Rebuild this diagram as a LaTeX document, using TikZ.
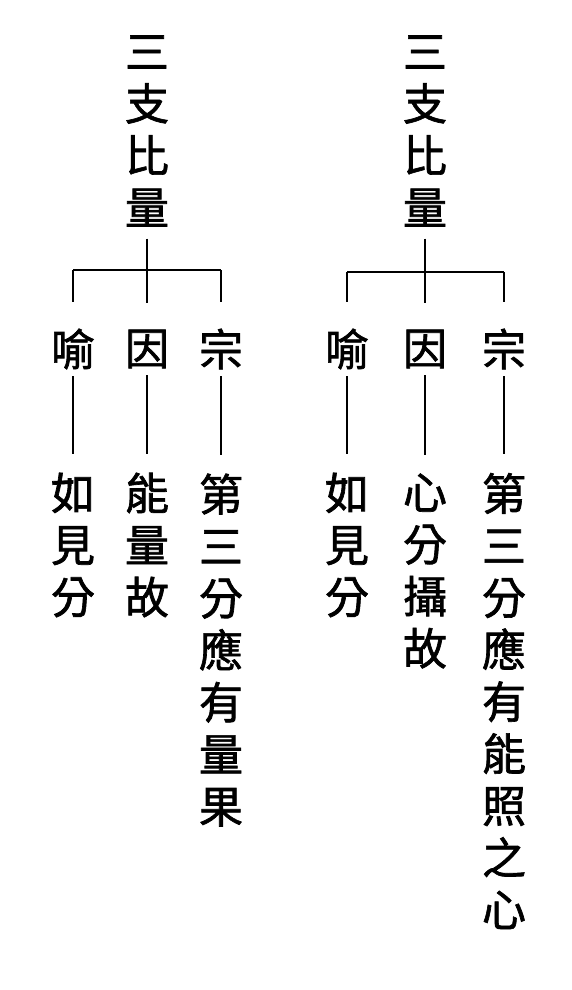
\documentclass[tikz,border=0pt]{standalone}
\usepackage{fontspec}
\newfontfamily\cjk[FakeBold=1.5]{Noto Sans CJK TC}

\tikzset{
  ttl/.style={font=\cjk\fontsize{44}{52}\selectfont, align=center, inner sep=0pt, outer sep=12pt},
  kid/.style={font=\cjk\fontsize{44}{52}\selectfont, inner sep=0pt, outer sep=7pt},
  col/.style={font=\cjk\fontsize{44}{52}\selectfont, align=center, inner sep=0pt, outer sep=19pt},
  ln/.style={line width=1.6pt},
}

\begin{document}
\begin{tikzpicture}[x=1pt,y=-1pt]
  \useasboundingbox (0,0) rectangle (572,990);
  % Left tree
  \node[ttl] (tA) at (147,131) {三\\支\\比\\量};
  \node[kid] (yuA) at (73,349) {喻};
  \node[kid] (yinA) at (147,349) {因};
  \node[kid] (zongA) at (221,349) {宗};
  \node[col] (ruA) at (73,545) {如\\見\\分};
  \node[col] (nengA) at (147,545) {能\\量\\故};
  \node[col] (diA) at (221,650) {第\\三\\分\\應\\有\\量\\果};
  % Right tree
  \node[ttl] (tB) at (425,131) {三\\支\\比\\量};
  \node[kid] (yuB) at (347,349) {喻};
  \node[kid] (yinB) at (425,349) {因};
  \node[kid] (zongB) at (504,349) {宗};
  \node[col] (ruB) at (347,545) {如\\見\\分};
  \node[col] (xinB) at (425,571) {心\\分\\攝\\故};
  \node[col] (diB) at (504,701) {第\\三\\分\\應\\有\\能\\照\\之\\心};
  % Coordinates
  \coordinate (jA) at (147,270);
  \coordinate (lA) at (73,270);
  \coordinate (rA) at (221,270);
  \coordinate (jB) at (425,272);
  \coordinate (lB) at (347,272);
  \coordinate (rB) at (504,272);
  % Left connectors
  \draw[ln] (tA) -- (jA);
  \draw[ln] (lA) -- (rA);
  \draw[ln,shorten >=20pt] (lA) -- (yuA);
  \draw[ln,shorten >=20pt] (jA) -- (yinA);
  \draw[ln,shorten >=20pt] (rA) -- (zongA);
  \draw[ln] (yuA) -- (ruA);
  \draw[ln] (yinA) -- (nengA);
  \draw[ln] (zongA) -- (diA);
  % Right connectors
  \draw[ln] (tB) -- (jB);
  \draw[ln] (lB) -- (rB);
  \draw[ln,shorten >=20pt] (lB) -- (yuB);
  \draw[ln,shorten >=20pt] (jB) -- (yinB);
  \draw[ln,shorten >=20pt] (rB) -- (zongB);
  \draw[ln] (yuB) -- (ruB);
  \draw[ln] (yinB) -- (xinB);
  \draw[ln] (zongB) -- (diB);
\end{tikzpicture}
\end{document}
